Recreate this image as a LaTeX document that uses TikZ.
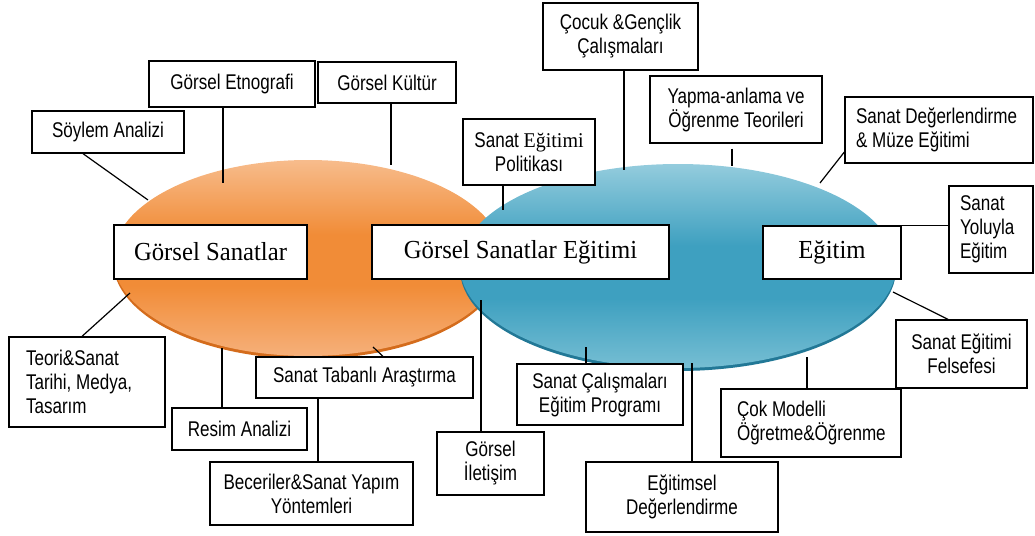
\documentclass[tikz,border=0pt]{standalone}
\usepackage{fontspec}
\setmainfont{Liberation Sans}[FakeStretch=0.8]
\newfontfamily\tmsfont{Liberation Serif}[FakeStretch=0.95]
\definecolor{orTop}{RGB}{247,188,140}
\definecolor{orMid}{RGB}{241,140,55}
\definecolor{orBot}{RGB}{246,176,122}
\definecolor{orRim}{RGB}{212,108,28}
\definecolor{blTop}{RGB}{148,204,221}
\definecolor{blMid}{RGB}{62,160,192}
\definecolor{blBot}{RGB}{118,190,211}
\definecolor{blRim}{RGB}{34,120,150}
\pgfdeclareverticalshading{orshade}{100bp}{color(0bp)=(orBot); color(25bp)=(orBot); color(43bp)=(orMid); color(56bp)=(orMid); color(75bp)=(orTop); color(100bp)=(orTop)}
\pgfdeclareverticalshading{blshade}{100bp}{color(0bp)=(blBot); color(25bp)=(blBot); color(42bp)=(blMid); color(55bp)=(blMid); color(75bp)=(blTop); color(100bp)=(blTop)}
\begin{document}
\begin{tikzpicture}[x=1pt,y=-1pt,
  box/.style={draw=black, line width=1.3pt, fill=white, inner sep=0pt, align=center,
    font=\fontsize{21.3}{24}\selectfont\frenchspacing},
  lbox/.style={box, align=flush left},
  bigbox/.style={box, line width=1.5pt, font=\tmsfont\fontsize{26}{30}\selectfont},
  conn/.style={line width=1.2pt, black}]
\useasboundingbox (0,0) rectangle (1035,535);
% ellipses
\fill[orRim] (308,261) ellipse [x radius=195pt, y radius=98pt];
\shade[shading=orshade] (308,258) ellipse [x radius=195pt, y radius=98pt];
\fill[blRim] (678,269) ellipse [x radius=218pt, y radius=102pt];
\shade[shading=blshade] (678,266) ellipse [x radius=218pt, y radius=102pt];
% boxes
\node[box, minimum width=152pt, minimum height=42pt] (soylem) at (108,132) {Söylem Analizi};
\node[box, minimum width=166pt, minimum height=46pt] (etno) at (232,84) {Görsel Etnografi};
\node[box, minimum width=138pt, minimum height=41pt] (kultur) at (387,82.5) {Görsel Kültür};
\node[box, minimum width=155pt, minimum height=67pt] (cocuk) at (620.5,36.5) {Çocuk \&Gençlik\\Çalışmaları};
\node[box, minimum width=172pt, minimum height=67pt] (yapma) at (736,109.5) {Yapma-anlama ve\\Öğrenme Teorileri};
\node[box, minimum width=132pt, minimum height=66pt] (politika) at (529,152) {Sanat {\tmsfont\fontsize{21}{24}\selectfont Eğitimi}\\Politikası};
\node[lbox, minimum width=188pt, minimum height=66pt, text width=166pt] (muze) at (939,130) {Sanat Değerlendirme\\\& Müze Eğitimi};
\node[lbox, minimum width=84pt, minimum height=87pt, text width=62pt] (yoluyla) at (991,229.5) {Sanat\\Yoluyla\\Eğitim};
\node[bigbox, minimum width=138pt, minimum height=53pt] (egitim) at (832,252.5) {Eğitim};
\node[bigbox, minimum width=297pt, minimum height=54pt] (gse) at (520.5,252) {Görsel Sanatlar Eğitimi};
\node[bigbox, minimum width=193pt, minimum height=54pt] (gs) at (210.5,252) {Görsel Sanatlar};
\node[lbox, minimum width=156pt, minimum height=90pt, text width=122pt] (teori) at (87,382) {Teori\&Sanat\\Tarihi, Medya,\\Tasarım};
\node[box, minimum width=135pt, minimum height=42pt] (resim) at (239.5,429) {Resim Analizi};
\node[box, minimum width=217pt, minimum height=41pt] (tabanli) at (364.5,377.5) {Sanat Tabanlı Araştırma};
\node[box, minimum width=203pt, minimum height=63pt] (beceri) at (311.5,493.5) {Beceriler\&Sanat Yapım\\Yöntemleri};
\node[box, minimum width=107pt, minimum height=63pt] (iletisim) at (490.5,463.5) {Görsel\\İletişim};
\node[box, minimum width=166pt, minimum height=61pt] (calisma) at (600,394.5) {Sanat Çalışmaları\\Eğitim Programı};
\node[box, minimum width=192pt, minimum height=70pt] (egitimsel) at (682,497) {Eğitimsel\\Değerlendirme};
\node[lbox, minimum width=180pt, minimum height=68pt, text width=148pt] (cokmodel) at (811,423) {Çok Modelli\\Öğretme\&Öğrenme};
\node[box, minimum width=131pt, minimum height=68pt] (felsefe) at (961.5,354) {Sanat Eğitimi\\Felsefesi};
% connector end points on the ellipses
\coordinate (eSoylem) at (148,200);
\coordinate (eEtno) at (223,183);
\coordinate (eKultur) at (391,165);
\coordinate (ePolitika) at (503,210);
\coordinate (eCocuk) at (624,170);
\coordinate (eYapma) at (732,166);
\coordinate (eMuze) at (820,183);
\coordinate (eFelsefe) at (893,292);
\coordinate (eCok) at (807,357);
\coordinate (eEgitimsel) at (692,363);
\coordinate (eCalisma) at (586,347);
\coordinate (eIletisim) at (481,300);
\coordinate (eTabanli) at (373,347);
\coordinate (eResim) at (222,348);
\coordinate (eTeori) at (130,293);
\coordinate (bTop) at ([xshift=6.5pt]beceri.north);
% connectors
\draw[conn] ([xshift=-25pt]soylem.south) -- (eSoylem);
\draw[conn] ([xshift=-9pt]etno.south) -- (eEtno);
\draw[conn] ([xshift=4pt]kultur.south) -- (eKultur);
\draw[conn] ([xshift=-26pt]politika.south) -- (ePolitika);
\draw[conn] ([xshift=3.5pt]cocuk.south) -- (eCocuk);
\draw[conn] ([xshift=-4pt,yshift=-5pt]yapma.south) -- (eYapma);
\draw[conn] ([yshift=-22pt]muze.west) -- (eMuze);
\draw[conn] (egitim.north east) -- (egitim.north east -| yoluyla.west);
\draw[conn] ([xshift=-13.5pt]felsefe.north) -- (eFelsefe);
\draw[conn] ([xshift=-4pt]cokmodel.north) -- (eCok);
\draw[conn] ([xshift=10pt]egitimsel.north) -- (eEgitimsel);
\draw[conn] ([xshift=-14pt]calisma.north) -- (eCalisma);
\draw[conn] ([xshift=-9.5pt]iletisim.north) -- (eIletisim);
\draw[conn] ([xshift=18.5pt]tabanli.north) -- (eTabanli);
\draw[conn] ([xshift=-17.5pt]resim.north) -- (eResim);
\draw[conn] (bTop) -- (bTop |- tabanli.south);
\draw[conn] ([xshift=-5pt]teori.north) -- (eTeori);
\end{tikzpicture}
\end{document}
